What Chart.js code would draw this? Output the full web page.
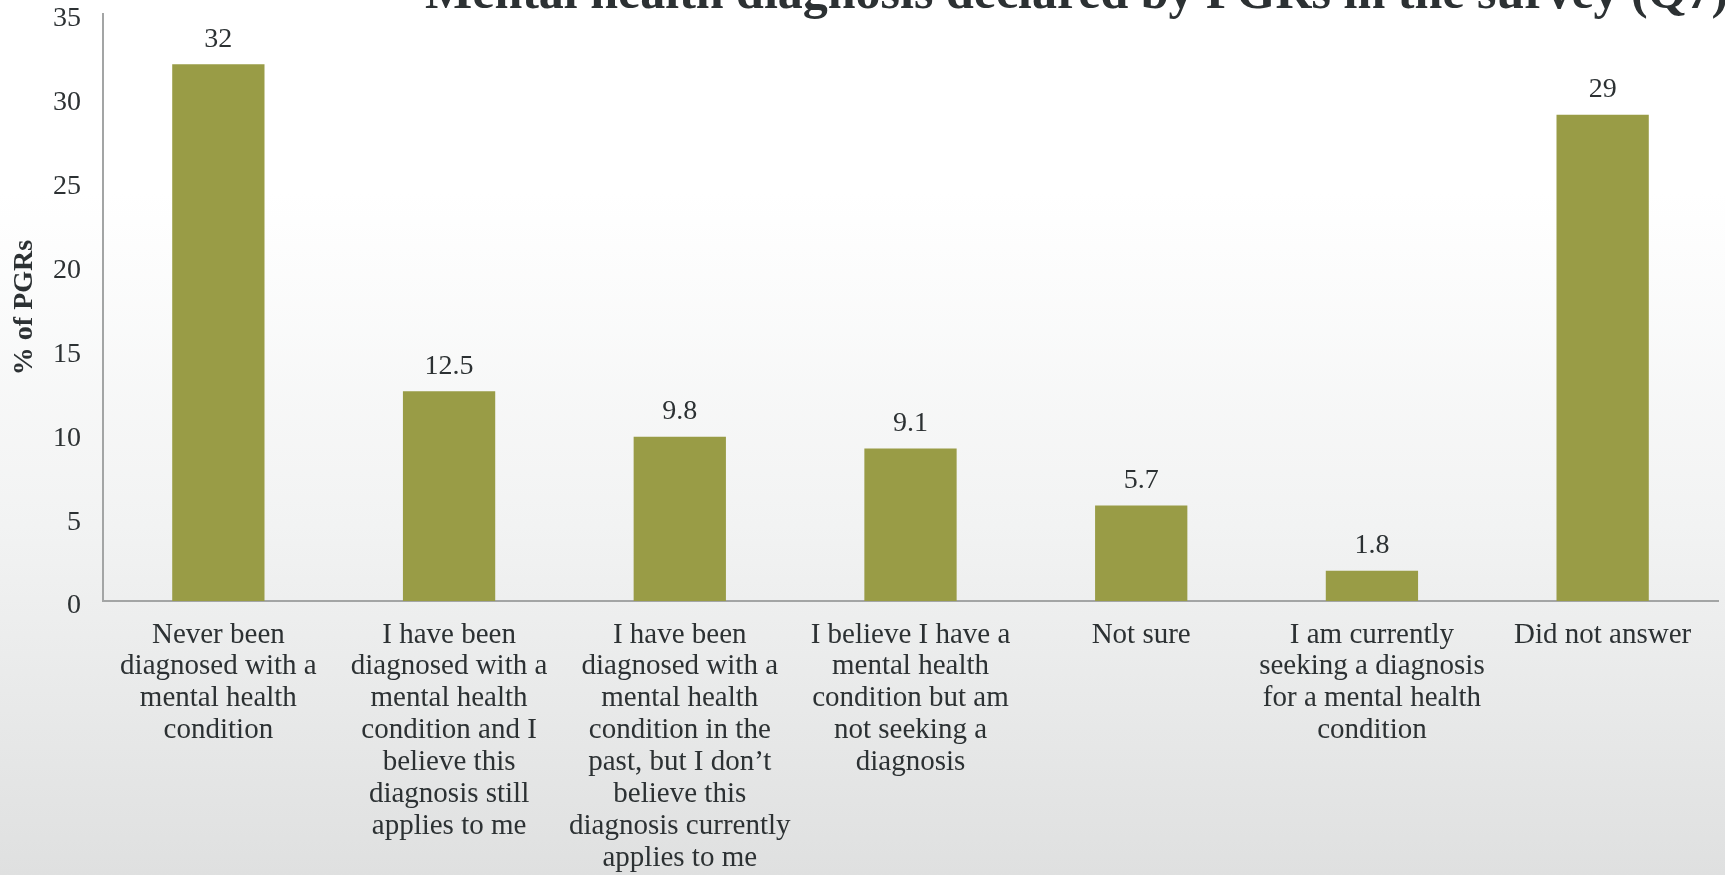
<!DOCTYPE html>
<html>
<head>
<meta charset="utf-8">
<title>Mental health diagnosis declared by PGRs</title>
<script src="https://cdn.jsdelivr.net/npm/chart.js@4"></script>
<style>
    html, body {
        margin: 0;
        padding: 0;
        width: 1725px;
        height: 875px;
        overflow: hidden;
        background: linear-gradient(to bottom, #ffffff 0%, #ffffff 22%, #f2f3f3 60%, #dfe0e0 100%);
    }
    #chart_box {
        position: relative;
        width: 1725px;
        height: 875px;
    }
</style>
</head>
<body>
<div id="chart_box">
    <canvas id="my_chart"></canvas>
</div>
<script>
const chart_title = 'Mental health diagnosis declared by PGRs in the survey (Q7)';
const y_title = '% of PGRs';

const categories = [
    ['Never been', 'diagnosed with a', 'mental health', 'condition'],
    ['I have been', 'diagnosed with a', 'mental health', 'condition and I', 'believe this', 'diagnosis still', 'applies to me'],
    ['I have been', 'diagnosed with a', 'mental health', 'condition in the', 'past, but I don\u2019t', 'believe this', 'diagnosis currently', 'applies to me'],
    ['I believe I have a', 'mental health', 'condition but am', 'not seeking a', 'diagnosis'],
    ['Not sure'],
    ['I am currently', 'seeking a diagnosis', 'for a mental health', 'condition'],
    ['Did not answer']
];
const percent_values = [32, 12.5, 9.8, 9.1, 5.7, 1.8, 29];
const value_labels = ['32', '12.5', '9.8', '9.1', '5.7', '1.8', '29'];
const y_ticks = [0, 5, 10, 15, 20, 25, 30, 35];

const text_color = '#2c3133';
const bar_color = '#999c46';
const axis_color = '#a3a5a5';
const serif = "Georgia, 'Liberation Serif', serif";

// title sits half off the top of the page, like the slide it was cut from
const title_plugin = {
    id: 'clipped_title',
    afterDraw(chart) {
        const ctx = chart.ctx;
        ctx.save();
        ctx.font = 'bold 50px ' + serif;
        ctx.fillStyle = text_color;
        ctx.textAlign = 'left';
        ctx.textBaseline = 'alphabetic';
        ctx.fillText(chart_title, 425, 8);
        ctx.restore();
    }
};

const value_plugin = {
    id: 'bar_values',
    afterDatasetsDraw(chart) {
        const ctx = chart.ctx;
        const meta = chart.getDatasetMeta(0);
        ctx.save();
        ctx.font = '28px ' + serif;
        ctx.fillStyle = text_color;
        ctx.textAlign = 'center';
        ctx.textBaseline = 'middle';
        meta.data.forEach((bar, i) => {
            ctx.fillText(value_labels[i], bar.x, bar.y - 25);
        });
        ctx.restore();
    }
};

const ctx = document.getElementById('my_chart').getContext('2d');
window.my_bar_chart = new Chart(ctx, {
    type: 'bar',
    data: {
        labels: categories,
        datasets: [{
            data: percent_values,
            backgroundColor: bar_color,
            borderWidth: 0,
            barPercentage: 0.4,
            categoryPercentage: 1.0
        }]
    },
    options: {
        responsive: true,
        maintainAspectRatio: false,
        animation: false,
        layout: {
            padding: { top: 14, right: 7, left: 0, bottom: 0 }
        },
        plugins: {
            legend: { display: false },
            title: { display: false },
            tooltip: { enabled: false }
        },
        scales: {
            x: {
                grid: { display: false, drawTicks: false },
                border: { display: true, color: axis_color, width: 2 },
                ticks: {
                    color: text_color,
                    font: { family: serif, size: 29, lineHeight: 1.1 },
                    padding: 18,
                    maxRotation: 0,
                    autoSkip: false
                },
                afterFit(scale) {
                    scale.height = 274;
                }
            },
            y: {
                min: 0,
                max: 35,
                afterBuildTicks(scale) {
                    scale.ticks = y_ticks.map(v => ({ value: v }));
                },
                grid: { display: false, drawTicks: false },
                border: { display: true, color: axis_color, width: 2 },
                ticks: {
                    color: text_color,
                    font: { family: serif, size: 28 },
                    padding: 22,
                    labelOffset: 5
                },
                title: {
                    display: true,
                    text: y_title,
                    color: text_color,
                    font: { family: serif, size: 28, weight: 'bold' },
                    padding: { top: 8, bottom: 0 }
                },
                afterFit(scale) {
                    scale.width = 103;
                    // let the top tick label hang over the padding
                    scale.paddingTop = 0;
                    scale.paddingBottom = 0;
                }
            }
        }
    },
    plugins: [title_plugin, value_plugin]
});
</script>
</body>
</html>
